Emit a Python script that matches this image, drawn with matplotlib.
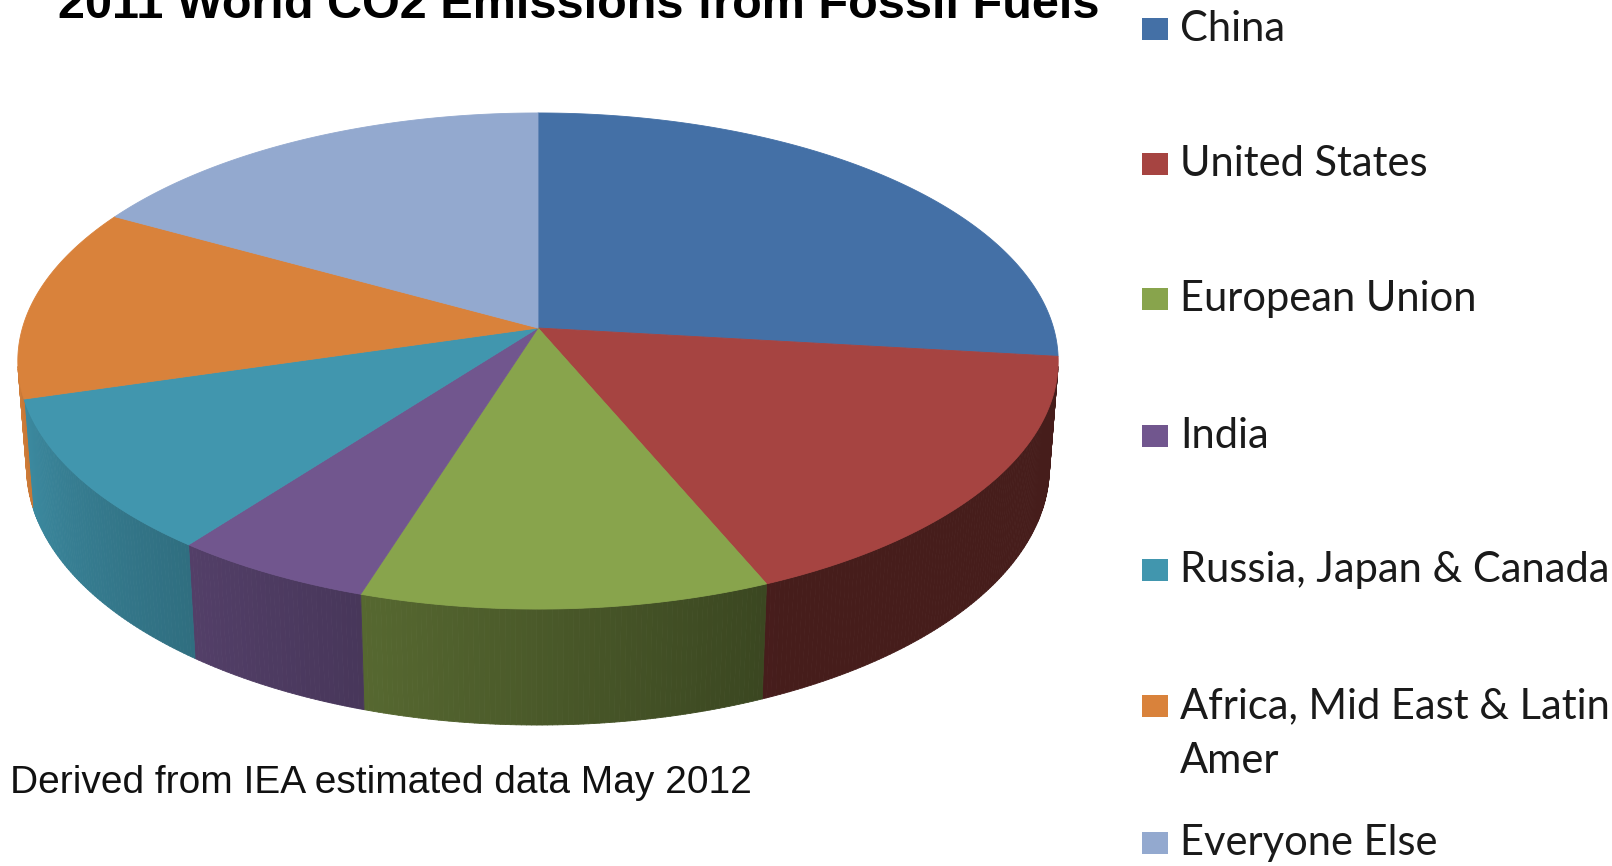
import numpy as np
import matplotlib
matplotlib.use("Agg")
import matplotlib.pyplot as plt
from matplotlib.collections import PolyCollection
from matplotlib.colors import to_rgb
from matplotlib.patches import Rectangle

# Datos (porcentaje de emisiones 2011)
regions = ["China", "United States", "European Union", "India",
           "Russia, Japan & Canada", "Africa, Mid East & Latin\nAmer", "Everyone Else"]
shares = [26.8, 16.8, 11.2, 5.5, 10.1, 12.6, 16.9]
colors = ["#4470A6", "#A64441", "#88A44C", "#71568E", "#4196AE", "#D9823B", "#93A9CF"]

title = "2011 World CO2 Emissions from Fossil Fuels"
note = "Derived from IEA estimated data May 2012"

# Geometria de la proyeccion en perspectiva (pixeles)
CX, CY = 538, 328
S, C = 0.4726, 0.8813
D, F = 6.622, 3414
H = 0.236


def proj(theta_deg, z):
    t = np.radians(theta_deg)
    x = np.sin(t)
    y = -np.cos(t)
    depth = D - y * C - z * S
    sx = CX + F * x / depth
    sy = CY - F * (-y * S + z * C) / depth
    return sx, sy


def shade(col, theta):
    b = np.clip(0.42 + (theta - 155) / 105 * 0.53, 0.42, 0.97)
    return tuple(np.array(to_rgb(col)) * b)


fig = plt.figure(figsize=(16.12, 8.66), dpi=100)
ax = fig.add_axes([0, 0, 1, 1])
ax.set_xlim(0, 1612)
ax.set_ylim(866, 0)
ax.axis("off")

edges = np.concatenate([[0], np.cumsum(shares) / np.sum(shares) * 360])
vis_lo, vis_hi = 98.9, 261.1

# paredes laterales visibles
polys, pcols = [], []
for i, col in enumerate(colors):
    a0, a1 = max(edges[i], vis_lo), min(edges[i + 1], vis_hi)
    if a1 <= a0:
        continue
    steps = np.linspace(a0, a1, max(int((a1 - a0) * 2), 2))
    for t0, t1 in zip(steps[:-1], steps[1:]):
        p = [proj(t0, 0), proj(t1, 0), proj(t1, -H), proj(t0, -H)]
        polys.append(p)
        pcols.append(shade(col, (t0 + t1) / 2))
ax.add_collection(PolyCollection(polys, facecolors=pcols, edgecolors=pcols, linewidths=0.6))

# caras superiores
for i, col in enumerate(colors):
    arc = np.linspace(edges[i], edges[i + 1], 200)
    xs, ys = proj(arc, 0)
    ax.fill(np.r_[CX, xs], np.r_[CY, ys], color=col, lw=0.6, ec=col)

ax.text(579, 18, title, ha="center", va="baseline", fontsize=35,
        fontweight="bold", family="Liberation Sans", color="black")
ax.text(10, 783, note, ha="left", va="center", fontsize=28,
        family="Liberation Sans", color="#111111")

# leyenda
ly = [29, 164, 299, 436, 570, 706, 843]
for lab, col, y in zip(regions, colors, ly):
    ax.add_patch(Rectangle((1142, y - 11), 26, 22, color=col, lw=0))
    for k, line in enumerate(lab.split("\n")):
        ax.text(1180, y + k * 55, line, ha="left", va="center", fontsize=30,
                family="Lato", color="#1a1a1a")

fig.savefig("out.png", dpi=100)
